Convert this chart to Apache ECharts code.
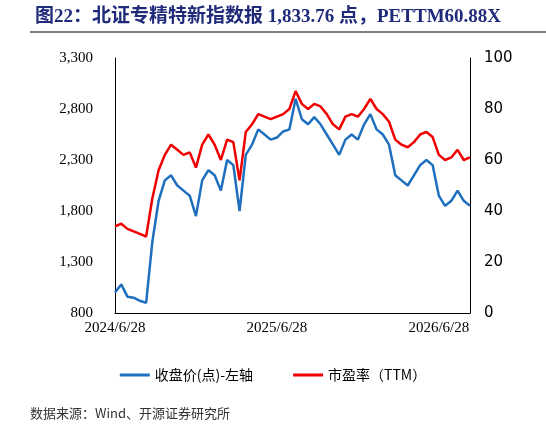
<!DOCTYPE html>
<html><head><meta charset="utf-8">
<script src="https://cdn.jsdelivr.net/npm/echarts@6/dist/echarts.min.js"></script>
<style>body{margin:0;background:#fff}#c{width:546px;height:437px}</style>
</head><body><div id="c"></div>
<script>
// 每两周一个点，2024/6/28 起
const tickLabels = { 0: '2024/6/28', 26: '2025/6/28', 52: '2026/6/28' };
const indexValues = [1000,1080,960,950,920,900,1500,1900,2100,2150,2050,2000,1950,1750,2100,2200,2150,2000,2300,2250,
  1800,2350,2450,2600,2550,2500,2520,2580,2600,2900,2700,2650,2720,2650,2550,2450,2350,2500,2550,2500,
  2650,2750,2600,2550,2450,2150,2100,2050,2150,2250,2300,2250,1950,1850,1900,2000,1900,1850];
const peValues = [34,35,33,32,31,30,45,56,62,66,64,62,63,57,66,70,66,60,68,67,
  52,71,74,78,77,76,77,78,80,87,82,80,82,81,78,74,72,77,78,77,
  80,84,80,78,75,68,66,65,67,70,71,69,62,60,61,64,60,61];
const categories = indexValues.map((_, i) => i);

const chart = echarts.init(document.getElementById('c'));
chart.setOption({
  animation: false,
  title: {
    text: '图22：北证专精特新指数报 1,833.76 点，PETTM60.88X',
    left: 30, top: 3,
    textStyle: { color: '#1f2a7a', fontSize: 19, fontWeight: 'bold', fontFamily: 'Liberation Serif, Noto Sans CJK SC' }
  },
  graphic: [
    { type: 'line', shape: { x1: 30, y1: 32, x2: 546, y2: 32 }, style: { stroke: '#000', lineWidth: 1 } },
    { type: 'text', left: 30, top: 407, style: { text: '数据来源：Wind、开源证券研究所', fontSize: 13, fill: '#333', fontFamily: 'Noto Sans CJK SC' } }
  ],
  legend: {
    bottom: 50, itemGap: 40, itemWidth: 30, itemHeight: 3,
    icon: 'rect',
    textStyle: { fontSize: 14, color: '#000', fontFamily: 'Noto Sans CJK SC' },
    data: ['收盘价(点)-左轴', '市盈率（TTM）']
  },
  grid: { left: 115, right: 76, top: 58, bottom: 124 },
  xAxis: {
    type: 'category', data: categories, boundaryGap: false,
    axisLine: { lineStyle: { color: '#000' } },
    axisTick: { show: false },
    axisLabel: {
      interval: 0, color: '#000', fontSize: 15, fontFamily: 'Liberation Serif',
      formatter: (v, i) => tickLabels[i] || ''
    }
  },
  yAxis: [
    { type: 'value', min: 800, max: 3300, interval: 500, splitLine: { show: false },
      axisLine: { show: true, lineStyle: { color: '#000' } }, axisTick: { show: false },
      axisLabel: { color: '#000', fontSize: 15, fontFamily: 'Liberation Serif', margin: 22,
        formatter: v => v.toLocaleString('en-US') } },
    { type: 'value', min: 0, max: 100, interval: 20, splitLine: { show: false },
      axisLine: { show: true, lineStyle: { color: '#000' } }, axisTick: { show: false },
      axisLabel: { color: '#000', fontSize: 15, fontFamily: 'DejaVu Sans', margin: 14 } }
  ],
  series: [
    { name: '收盘价(点)-左轴', type: 'line', data: indexValues, yAxisIndex: 0, symbol: 'none',
      lineStyle: { color: '#1f6fbf', width: 2.5 }, itemStyle: { color: '#1f6fbf' } },
    { name: '市盈率（TTM）', type: 'line', data: peValues, yAxisIndex: 1, symbol: 'none',
      lineStyle: { color: '#f00000', width: 2.5 }, itemStyle: { color: '#f00000' } }
  ]
});
</script></body></html>
